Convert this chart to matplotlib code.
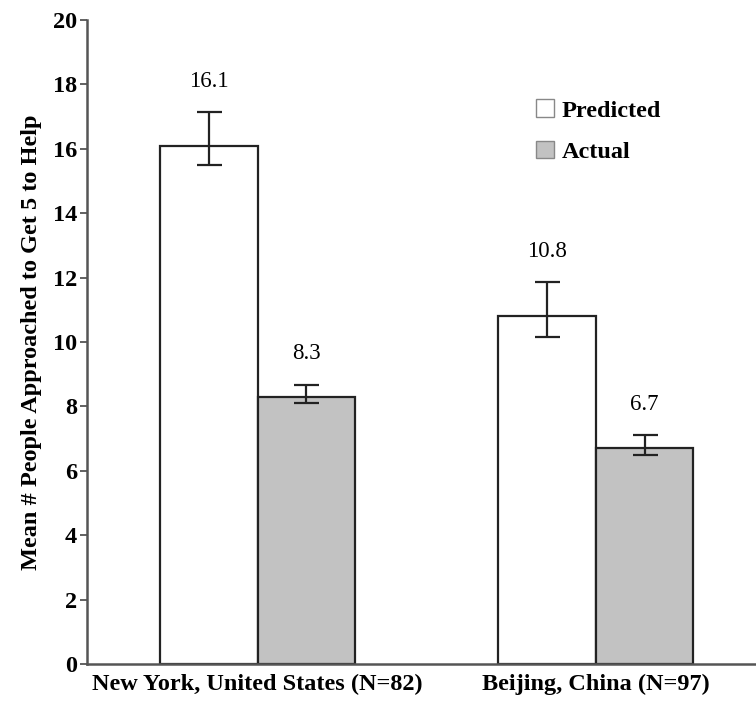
import numpy as np
import matplotlib
matplotlib.use("Agg")
import matplotlib.pyplot as plt
from matplotlib.patches import Patch

# data
cities = ["New York, United States (N=82)", "Beijing, China (N=97)"]
predicted = [16.1, 10.8]
actual = [8.3, 6.7]
pred_err_lo = [0.6, 0.65]
pred_err_hi = [1.05, 1.05]
act_err_lo = [0.2, 0.2]
act_err_hi = [0.38, 0.4]
yticks = [0, 2, 4, 6, 8, 10, 12, 14, 16, 18, 20]

plt.rcParams['font.family'] = ['Liberation Serif', 'DejaVu Serif']
fs = 17.5

fig = plt.figure(figsize=(7.56, 7.02), dpi=100)
ax = fig.add_axes([0.115, 0.054, 0.885, 0.9175])

x = np.arange(len(cities))
w = 0.288
edge = "#222222"

ax.bar(x - w / 2, predicted, w, color="white", edgecolor=edge, linewidth=1.6,
       yerr=[pred_err_lo, pred_err_hi], capsize=9,
       error_kw=dict(ecolor="#222222", elinewidth=1.6, capthick=1.6))
ax.bar(x + w / 2, actual, w, color="#c2c2c2", edgecolor=edge, linewidth=1.6,
       yerr=[act_err_lo, act_err_hi], capsize=9,
       error_kw=dict(ecolor="#222222", elinewidth=1.6, capthick=1.6))

for i in range(len(cities)):
    ax.text(x[i] - w / 2, predicted[i] + pred_err_hi[i] + 0.95, "%.1f" % predicted[i],
            ha="center", va="center", fontsize=16.5)
    ax.text(x[i] + w / 2, actual[i] + act_err_hi[i] + 0.95, "%.1f" % actual[i],
            ha="center", va="center", fontsize=16.5)

ax.set_xlim(-0.504, 1.473)
ax.set_ylim(0, 20)
ax.set_yticks(yticks)
ax.set_yticklabels([str(t) for t in yticks], fontsize=fs, fontweight="bold")
ax.set_xticks(x)
ax.set_xticklabels(cities, fontsize=fs, fontweight="bold")
ax.tick_params(axis="x", length=0, pad=7)
ax.tick_params(axis="y", length=5, width=1.3, color="#555555", pad=2)
ax.set_ylabel("Mean # People Approached to Get 5 to Help", fontsize=fs,
              fontweight="bold", labelpad=8)

for s in ["top", "right"]:
    ax.spines[s].set_visible(False)
for s in ["left", "bottom"]:
    ax.spines[s].set_color("#555555")
    ax.spines[s].set_linewidth(1.8)

handles = [Patch(facecolor="white", edgecolor="#888888", label="Predicted"),
           Patch(facecolor="#c2c2c2", edgecolor="#888888", label="Actual")]
ax.legend(handles=handles, loc="upper left", bbox_to_anchor=(0.671, 0.877),
          frameon=False, prop=dict(size=fs, weight="bold"), borderpad=0,
          borderaxespad=0, handlelength=0.75, handleheight=0.75,
          handletextpad=0.3, labelspacing=0.78)

fig.savefig("out.png", dpi=100)
